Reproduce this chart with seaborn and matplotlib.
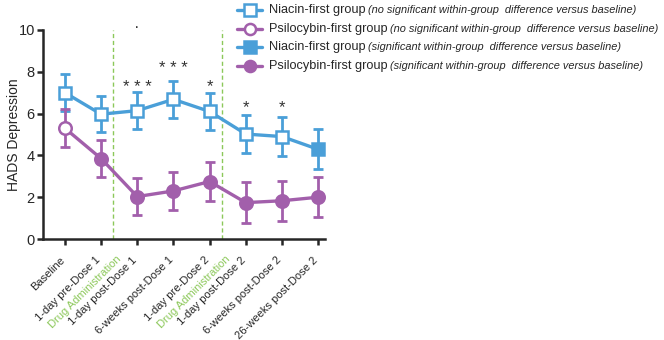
import numpy as np
import pandas as pd
import matplotlib
matplotlib.use("Agg")
import matplotlib.pyplot as plt
from matplotlib.lines import Line2D
from matplotlib.transforms import offset_copy, ScaledTranslation
import seaborn as sns

timepoints = ["Baseline", "1-day pre-Dose 1", "1-day post-Dose 1", "6-weeks post-Dose 1",
              "1-day pre-Dose 2", "1-day post-Dose 2", "6-weeks post-Dose 2", "26-weeks post-Dose 2"]
niacin_mean = [7.0, 5.97, 6.14, 6.68, 6.1, 5.02, 4.9, 4.29]
niacin_err = [0.9, 0.85, 0.88, 0.9, 0.9, 0.9, 0.95, 0.95]
niacin_sig = [False, False, False, False, False, False, False, True]
psilo_mean = [5.3, 3.85, 2.03, 2.3, 2.75, 1.74, 1.83, 2.0]
psilo_err = [0.9, 0.9, 0.9, 0.9, 0.95, 0.97, 0.95, 0.97]
psilo_sig = [False, True, True, True, True, True, True, True]
stars_idx = [2, 3, 4, 5, 6]
stars_txt = ["* * *", "* * *", "*", "*", "*"]
stars_y = [7.42, 8.33, 7.5, 6.46, 6.46]
dose_lines = [1.33, 4.33]
dose_label = "Drug Administration"
legend_names = ["Niacin-first group", "Psilocybin-first group", "Niacin-first group", "Psilocybin-first group"]
legend_notes = ["(no significant within-group  difference versus baseline)",
                "(no significant within-group  difference versus baseline)",
                "(significant within-group  difference versus baseline)",
                "(significant within-group  difference versus baseline)"]

blue = "#4a9fd8"
purple = "#a25fab"
green = "#8cc85a"

sns.set_style("ticks")
plt.rcParams['font.family'] = ['Liberation Sans', 'DejaVu Sans']

fig = plt.figure(figsize=(6.64, 3.40), dpi=100)
ax = fig.add_axes([0.065, 0.297, 0.425, 0.615])

x = np.arange(len(timepoints))
df = pd.DataFrame({"x": np.concatenate([x, x]),
                   "y": niacin_mean + psilo_mean,
                   "group": ["Niacin"] * len(x) + ["Psilocybin"] * len(x)})
sns.lineplot(data=df, x="x", y="y", hue="group", palette=[blue, purple],
             linewidth=2.4, legend=False, ax=ax, zorder=3)

for mean, err, sig, col, mk in [(niacin_mean, niacin_err, niacin_sig, blue, "s"),
                                 (psilo_mean, psilo_err, psilo_sig, purple, "o")]:
    ax.errorbar(x, mean, yerr=err, fmt="none", ecolor=col, elinewidth=2.0,
                capsize=3.5, capthick=2.0, zorder=2)
    for xi, yi, s in zip(x, mean, sig):
        ax.plot(xi, yi, marker=mk, markersize=9, markeredgewidth=1.8,
                markeredgecolor=col, markerfacecolor=col if s else "white",
                linestyle="none", zorder=4)

for xv in dose_lines:
    ax.axvline(xv, color=green, linestyle=(0, (3, 2)), linewidth=1.0, zorder=1)

for i, t, yv in zip(stars_idx, stars_txt, stars_y):
    ax.text(i, yv - 0.55, t, ha="center", va="bottom", fontsize=12, color="#333333")
ax.text(2, 9.75, "·", ha="center", va="bottom", fontsize=12, color="#333333", clip_on=False)

ax.set_xlim(-0.6, 7.2)
ax.set_ylim(0, 10)
ax.set_yticks([0, 2, 4, 6, 8, 10])
ax.set_xticks(x)
ax.set_xticklabels(timepoints, rotation=45, ha="right", va="center",
                   rotation_mode="anchor", fontsize=8.0)
ax.tick_params(axis="y", labelsize=10.5, width=1.8, length=4, pad=2)
ax.tick_params(axis="x", width=1.8, length=4, pad=10)
shift = ScaledTranslation(-2 / 100, 0, fig.dpi_scale_trans)
for lab in ax.get_xticklabels():
    lab.set_transform(lab.get_transform() + shift)
ax.set_xlabel("")
ax.set_ylabel("HADS Depression", fontsize=10)
ax.yaxis.set_label_coords(-0.078, 0.5)
for sp in ["left", "bottom"]:
    ax.spines[sp].set_linewidth(1.8)
sns.despine(ax=ax)

# Drug administration labels
for xv in dose_lines:
    tr = offset_copy(ax.get_xaxis_transform(), fig=fig, x=7, y=-18, units="dots")
    ax.text(xv, 0, dose_label, transform=tr, rotation=45, ha="right", va="center",
            rotation_mode="anchor", fontsize=8.0, color=green)

# Custom legend
W, H = 664, 340
rows_y = [10, 29, 47, 66]
cols = [blue, purple, blue, purple]
mks = ["s", "o", "s", "o"]
fills = [False, False, True, True]
fig.canvas.draw()
renderer = fig.canvas.get_renderer()
for ry, c, m, f, name, note in zip(rows_y, cols, mks, fills, legend_names, legend_notes):
    yf = 1 - ry / H
    fig.add_artist(Line2D([237 / W, 262 / W], [yf, yf], color=c, linewidth=2.4,
                          transform=fig.transFigure))
    fig.add_artist(Line2D([249.5 / W], [yf], marker=m, markersize=8, markeredgewidth=1.8,
                          markeredgecolor=c, markerfacecolor=c if f else "white",
                          transform=fig.transFigure))
    t = fig.text(269 / W, yf, name, fontsize=9.2, va="center", ha="left")
    bb = t.get_window_extent(renderer=renderer)
    fig.text(bb.x1 / W + 2 / W, yf, note, fontsize=7.9, style="italic", va="center", ha="left")

fig.savefig("out.png", dpi=100)
